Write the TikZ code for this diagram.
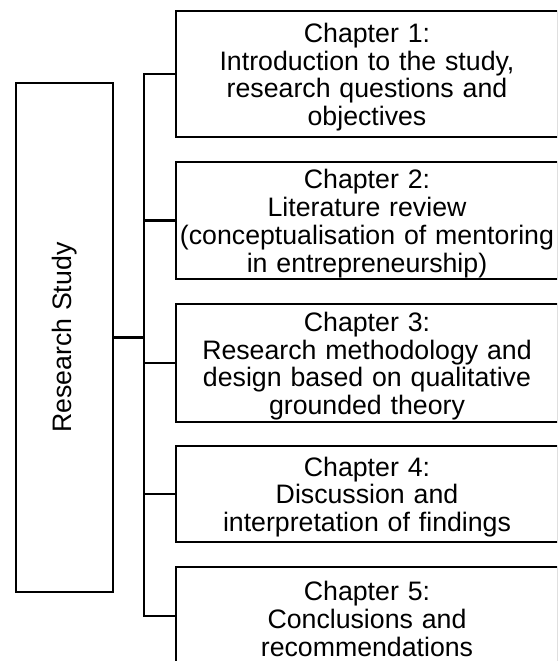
\documentclass[tikz,border=0pt]{standalone}
\usepackage{fontspec}
\setmainfont{Liberation Sans}
\begin{document}
\begin{tikzpicture}[x=1pt,y=-1pt,
  line width=2.2pt,
  chap/.style={draw, line width=2.2pt, minimum width=382pt, text width=378pt,
    align=center, inner sep=0pt, font=\fontsize{26.7}{27.7}\selectfont,
    execute at begin node={\rule{0pt}{25.5pt}}},
  rsbox/.style={draw, line width=2.2pt, rotate=90, minimum width=509pt,
    minimum height=97pt, inner sep=0pt, font=\fontsize{26.7}{27.7}\selectfont}]
\useasboundingbox (0,0) rectangle (557,661);
\clip (0,0) rectangle (557,661);
\node[rsbox] (rs) at (64.5,337.5) {Research Study};
\node[chap, minimum height=126pt] (c1) at (367,74) {Chapter 1:\\Introduction to the study,\\research questions and\\objectives};
\node[chap, minimum height=117pt] (c2) at (367,220.5) {Chapter 2:\\Literature review\\(conceptualisation of mentoring\\in entrepreneurship)};
\node[chap, minimum height=118pt] (c3) at (367,363) {Chapter 3:\\Research methodology and\\design based on qualitative\\grounded theory};
\node[chap, minimum height=96pt] (c4) at (367,494) {Chapter 4:\\Discussion and\\interpretation of findings};
\node[chap, minimum height=98pt] (c5) at (367,616) {Chapter 5:\\Conclusions and\\recommendations};
\coordinate (trunk) at (144,0);
\draw (rs.south) -- (rs.south -| trunk);
\draw (c1.west) -- (c1.west -| trunk) -- (c5.west -| trunk) -- (c5.west);
\foreach \n in {c2,c3,c4} \draw (\n.west) -- (\n.west -| trunk);
\end{tikzpicture}
\end{document}
